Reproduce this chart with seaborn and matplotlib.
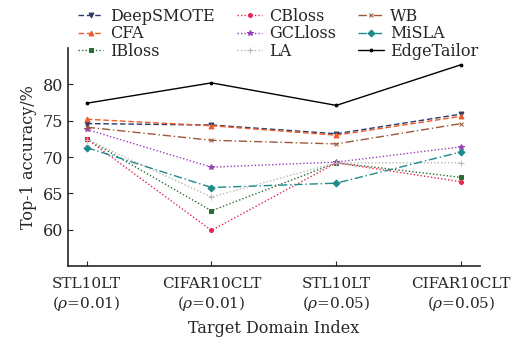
import numpy as np
import pandas as pd
import matplotlib
matplotlib.use("Agg")
import matplotlib.pyplot as plt
import seaborn as sns

domains = ["STL10LT\n($\\rho$=0.01)", "CIFAR10CLT\n($\\rho$=0.01)",
           "STL10LT\n($\\rho$=0.05)", "CIFAR10CLT\n($\\rho$=0.05)"]

deepsmote = [74.6, 74.4, 73.2, 75.9]
cfa = [75.2, 74.3, 73.0, 75.6]
ibloss = [72.5, 62.6, 69.2, 67.2]
cbloss = [72.5, 59.9, 69.2, 66.6]
gclloss = [73.8, 68.6, 69.3, 71.4]
la = [72.4, 64.5, 69.2, 69.2]
wb = [74.1, 72.3, 71.8, 74.6]
misla = [71.3, 65.8, 66.4, 70.7]
edgetailor = [77.4, 80.2, 77.1, 82.7]

methods = ["DeepSMOTE", "CFA", "IBloss", "CBloss", "GCLloss", "LA", "WB", "MiSLA", "EdgeTailor"]
values = [deepsmote, cfa, ibloss, cbloss, gclloss, la, wb, misla, edgetailor]

styles = {
    "DeepSMOTE": dict(color="#2b3a67", ls=(0, (4, 2)), marker="v", ms=3.5),
    "CFA": dict(color="#f05a28", ls=(0, (4, 2)), marker="^", ms=3.5),
    "IBloss": dict(color="#2e6b30", ls=(0, (1, 1.5)), marker="s", ms=3.5),
    "CBloss": dict(color="#e8254f", ls=(0, (1, 1.5)), marker="o", ms=2.8),
    "GCLloss": dict(color="#9b3fb5", ls=(0, (1, 1.5)), marker="*", ms=4),
    "LA": dict(color="#b8b8b8", ls=(0, (1, 1.5)), marker="+", ms=4),
    "WB": dict(color="#9a5a3a", ls=(0, (6, 2, 1, 2)), marker="x", ms=3.5),
    "MiSLA": dict(color="#1f8a8a", ls=(0, (6, 2, 1, 2)), marker="D", ms=3.5),
    "EdgeTailor": dict(color="black", ls="-", marker="o", ms=2),
}

rows = []
for m, v in zip(methods, values):
    for i, y in enumerate(v):
        rows.append({"method": m, "idx": i, "acc": y})
df = pd.DataFrame(rows)

sns.set_style("ticks")
plt.rcParams["font.family"] = ["DejaVu Serif"]
plt.rcParams["mathtext.fontset"] = "dejavuserif"

fig = plt.figure(figsize=(5.11, 3.38), dpi=100)
ax = fig.add_axes([0.133, 0.213, 0.806, 0.645])

for m in methods:
    st = styles[m]
    sns.lineplot(data=df[df.method == m], x="idx", y="acc", ax=ax,
                 color=st["color"], linestyle=st["ls"], marker=st["marker"],
                 markersize=st["ms"], markeredgecolor=st["color"],
                 linewidth=1.0, label=m)

fs = 11.5
ax.set_xlim(-0.15, 3.15)
ax.set_ylim(55, 85)
ax.set_yticks([60, 65, 70, 75, 80])
ax.set_xticks(range(4))
ax.set_xticklabels(domains, fontsize=11)
ax.tick_params(axis="y", labelsize=fs, direction="in")
ax.tick_params(axis="x", direction="in", pad=8)
ax.set_xlabel("Target Domain Index", fontsize=fs, labelpad=5)
ax.set_ylabel("Top-1 accuracy/%", fontsize=fs)
sns.despine(ax=ax)
for s in ["left", "bottom"]:
    ax.spines[s].set_linewidth(1.2)

handles, labels = ax.get_legend_handles_labels()
ax.get_legend().remove()
fig.legend(handles, labels, ncol=3, loc="upper left", bbox_to_anchor=(0.14, 0.995),
           frameon=False, fontsize=fs, handlelength=1.6, columnspacing=1.4,
           labelspacing=0.02, handletextpad=0.4, borderaxespad=0.0)

fig.savefig("out.png", dpi=100)
